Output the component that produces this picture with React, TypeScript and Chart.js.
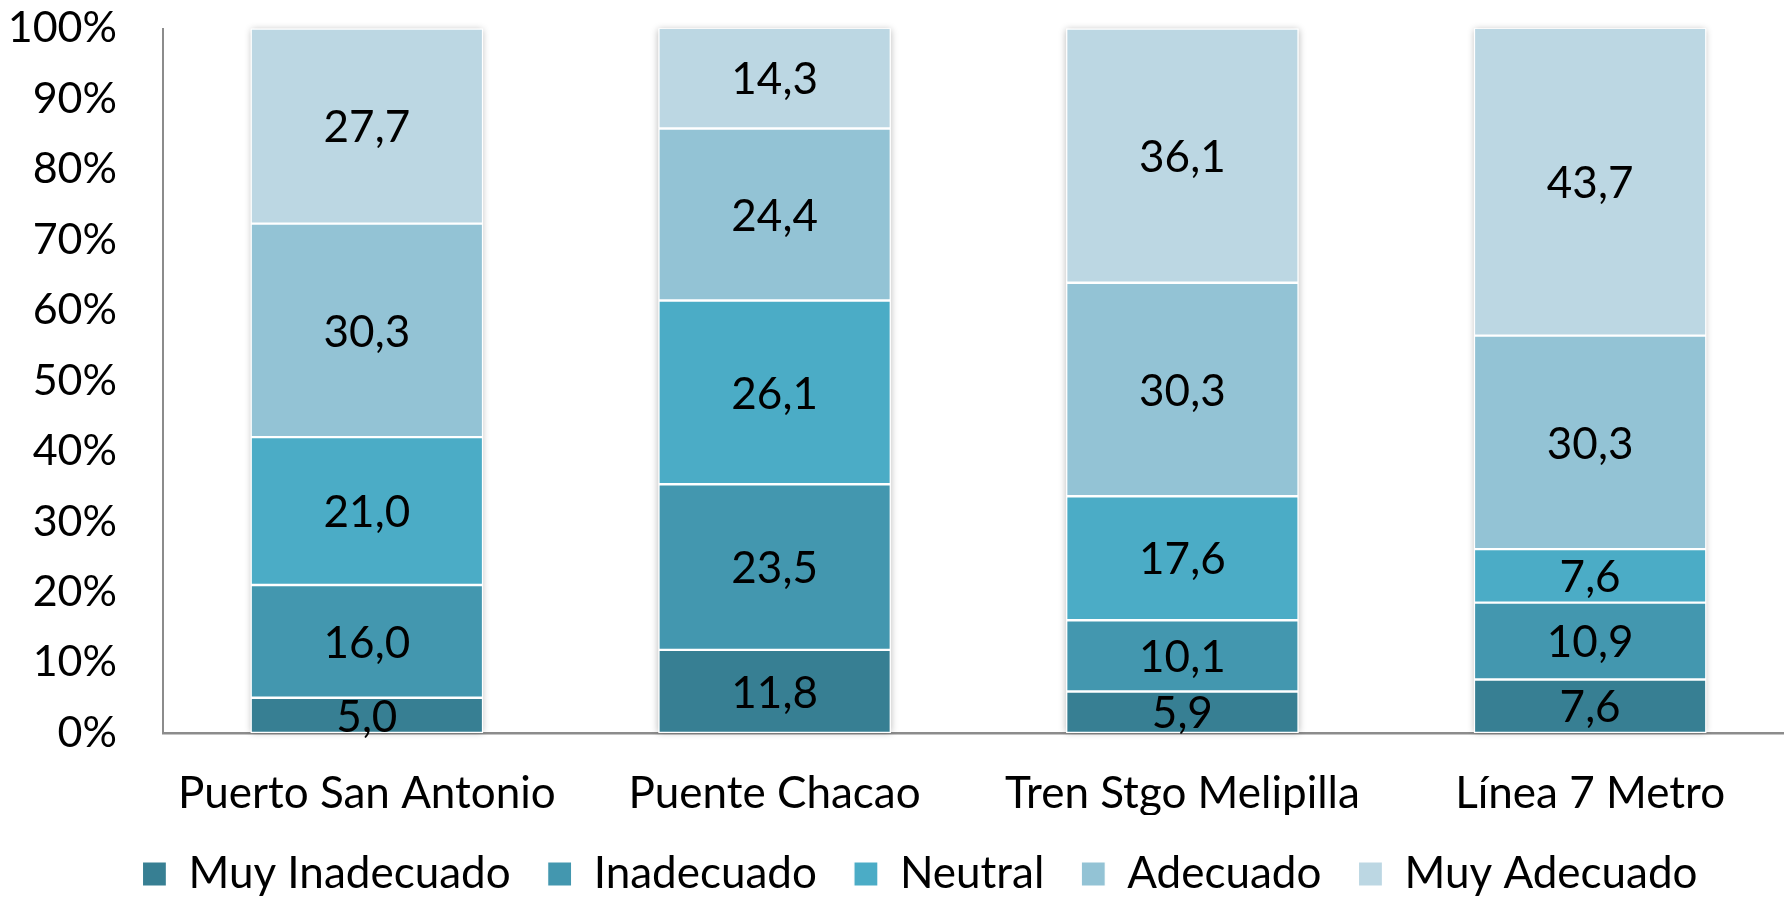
import React, { useEffect, useRef } from "react";
import { Chart, registerables } from "chart.js";

Chart.register(...registerables);

const categories = ["Puerto San Antonio", "Puente Chacao", "Tren Stgo Melipilla", "Línea 7 Metro"];
const seriesNames = ["Muy Inadecuado", "Inadecuado", "Neutral", "Adecuado", "Muy Adecuado"];
const muyInadecuado = [5.0, 11.8, 5.9, 7.6];
const inadecuado = [16.0, 23.5, 10.1, 10.9];
const neutral = [21.0, 26.1, 17.6, 7.6];
const adecuado = [30.3, 24.4, 30.3, 30.3];
const muyAdecuado = [27.7, 14.3, 36.1, 43.7];
const seriesColors = ["#377F93", "#4397AF", "#4BACC6", "#93C3D5", "#BCD7E3"];
const yTickValues = [0, 10, 20, 30, 40, 50, 60, 70, 80, 90, 100];

const FONT = "Lato";
const FS = 44;
const FS_Y = 43;

const shadowPlugin = {
  id: "stackShadow",
  beforeDatasetsDraw(chart: any) {
    const ctx = chart.ctx;
    const n = chart.data.datasets.length;
    const first = chart.getDatasetMeta(0);
    const last = chart.getDatasetMeta(n - 1);
    const area = chart.chartArea;
    ctx.save();
    ctx.fillStyle = "#FFFFFF";
    ctx.shadowColor = "rgba(0,0,0,0.28)";
    ctx.shadowBlur = 7;
    first.data.forEach((el: any, i: number) => {
      const a = el.getProps(["x", "base", "width"], true);
      const b = last.data[i].getProps(["y"], true);
      const top = Math.max(b.y, area.top);
      ctx.fillRect(a.x - a.width / 2, top, a.width, a.base - top);
    });
    ctx.restore();
  },
};

const dataLabelPlugin = {
  id: "segLabels",
  afterDatasetsDraw(chart: any) {
    const ctx = chart.ctx;
    ctx.save();
    ctx.font = `${FS}px ${FONT}`;
    ctx.fillStyle = "#000000";
    ctx.textAlign = "center";
    ctx.textBaseline = "middle";
    chart.data.datasets.forEach((ds: any, di: number) => {
      const meta = chart.getDatasetMeta(di);
      if (meta.hidden) return;
      meta.data.forEach((el: any, i: number) => {
        const p = el.getProps(["x", "y", "base"], true);
        const cy = (p.y + p.base) / 2;
        const v = ds.data[i] as number;
        ctx.fillText(v.toFixed(1).replace(".", ","), p.x, cy + 2);
      });
    });
    ctx.restore();
  },
};

export default function App() {
  const ref = useRef<HTMLCanvasElement | null>(null);
  useEffect(() => {
    if (!ref.current) return;
    const seriesData = [muyInadecuado, inadecuado, neutral, adecuado, muyAdecuado];
    const chart = new Chart(ref.current, {
      type: "bar",
      data: {
        labels: categories,
        datasets: seriesNames.map((name, i) => ({
          label: name,
          data: seriesData[i],
          backgroundColor: seriesColors[i],
          borderColor: "#FFFFFF",
          borderWidth: 1.2,
          borderSkipped: false,
          categoryPercentage: 1,
          barPercentage: 0.57,
        })),
      },
      options: {
        responsive: false,
        animation: false,
        devicePixelRatio: 1,
        layout: { padding: { top: 28.5, left: 46, right: 0, bottom: 0 } },
        plugins: {
          tooltip: { enabled: false },
          legend: {
            position: "bottom",
            labels: {
              font: { family: FONT, size: FS },
              color: "#000000",
              boxWidth: 24,
              boxHeight: 24,
              padding: 37,
            },
          },
        },
        scales: {
          x: {
            stacked: true,
            grid: { display: false, drawTicks: false },
            border: { display: true, color: "#8C8C8C", width: 2.5 },
            ticks: {
              font: { family: FONT, size: FS, lineHeight: 0.8 },
              color: "#000000",
              padding: 43,
              maxRotation: 0,
            },
            afterFit: (s: any) => {
              s.height = 82;
              s.paddingLeft = 0;
              s.paddingRight = 0;
            },
          },
          y: {
            stacked: true,
            min: 0,
            max: 100,
            grid: { display: false, drawTicks: false },
            border: { display: true, color: "#8C8C8C", width: 2 },
            afterBuildTicks: (s: any) => {
              s.ticks = yTickValues.map((v) => ({ value: v }));
            },
            ticks: {
              font: { family: FONT, size: FS_Y },
              color: "#000000",
              padding: 46,
              callback: (v: any) => `${v}%`,
            },
            afterFit: (s: any) => {
              s.width = 117;
              s.paddingTop = 0;
              s.paddingBottom = 0;
              // let the tick labels extend left of the (narrowed) axis box
              s._computeLabelArea = () => undefined;
            },
          },
        },
      },
      plugins: [shadowPlugin, dataLabelPlugin],
    });
    return () => chart.destroy();
  }, []);
  return (
    <div style={{ position: "fixed", left: 0, top: 0, width: 1784, height: 897, overflow: "hidden", background: "#FFFFFF" }}>
      <canvas ref={ref} width={1794} height={906} style={{ display: "block", width: 1794, height: 906 }} />
    </div>
  );
}
